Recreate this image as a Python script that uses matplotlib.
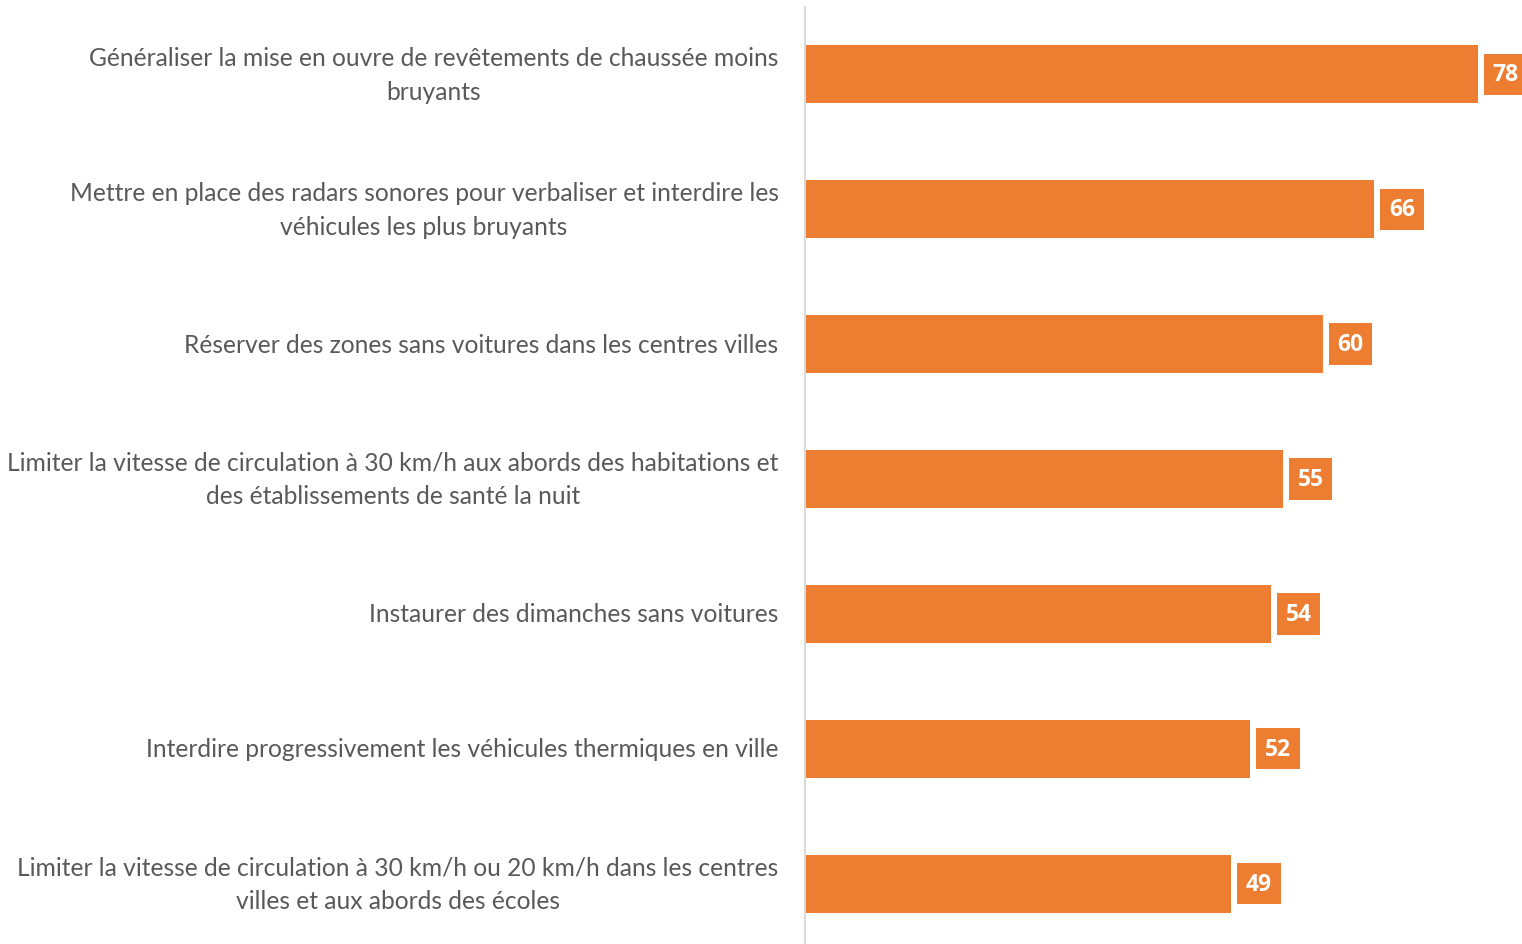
import matplotlib.pyplot as plt

# Data (top to bottom as shown)
categories = [
    "Généraliser la mise en ouvre de revêtements de chaussée moins\nbruyants",
    "Mettre en place des radars sonores pour verbaliser et interdire les\nvéhicules les plus bruyants",
    "Réserver des zones sans voitures dans les centres villes",
    "Limiter la vitesse de circulation à 30 km/h aux abords des habitations et\ndes établissements de santé la nuit",
    "Instaurer des dimanches sans voitures",
    "Interdire progressivement les véhicules thermiques en ville",
    "Limiter la vitesse de circulation à 30 km/h ou 20 km/h dans les centres\nvilles et aux abords des écoles",
]
values = [78, 66, 60, 55.4, 54, 51.6, 49.4]
labels = ["78", "66", "60", "55", "54", "52", "49"]

orange = "#ED7D31"
grey_text = "#595959"

plt.rcParams['font.family'] = ['Lato', 'DejaVu Sans']

fig = plt.figure(figsize=(15.22, 9.45), dpi=100)
ax = fig.add_axes([805 / 1522, -7 / 945, 717 / 1522, 944 / 945])

y = list(range(len(categories)))
ax.barh(y, values, height=0.43, color=orange)
ax.set_ylim(len(categories) - 0.5, -0.5)
ax.set_xlim(0, 83.1)

ax.set_yticks(y)
ax.set_yticklabels(categories, fontsize=17.7, color=grey_text,
                   multialignment='center', linespacing=1.55)
for t in ax.get_yticklabels():
    t.set_verticalalignment('center')
ax.tick_params(axis='y', length=0, pad=19)
ax.set_xticks([])

for s in ['top', 'right', 'bottom']:
    ax.spines[s].set_visible(False)
ax.spines['left'].set_color('#D9D9D9')
ax.spines['left'].set_linewidth(1.5)

for yi, v, lab in zip(y, values, labels):
    ax.annotate(lab, (v, yi), xytext=(10.5, 0), textcoords='offset points',
                ha='left', va='center', fontsize=16.5, fontweight='bold',
                family=['Open Sans', 'DejaVu Sans'], color='white',
                bbox=dict(boxstyle='square,pad=0.38', fc=orange, ec='none'))

fig.savefig('out.png', dpi=100)
